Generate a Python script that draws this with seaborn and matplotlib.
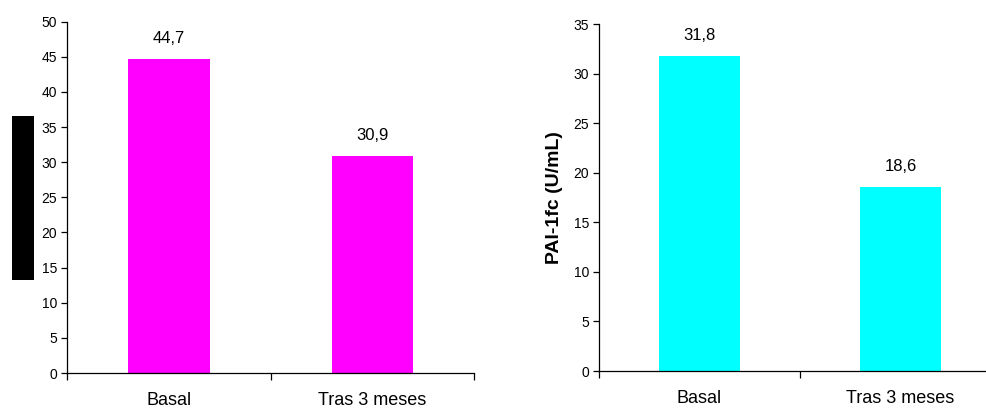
import matplotlib
matplotlib.use("Agg")
import matplotlib.pyplot as plt
from matplotlib.patches import Rectangle
import seaborn as sns
import pandas as pd

# Data
categories = ["Basal", "Tras 3 meses"]
left_values = [44.7, 30.9]
right_values = [31.8, 18.6]
left_ticks = list(range(0, 51, 5))
right_ticks = list(range(0, 36, 5))
right_ylabel = "PAI-1fc (U/mL)"

sns.set_style("white")
plt.rcParams["font.family"] = ["Liberation Sans", "DejaVu Sans"]
plt.rcParams["text.color"] = "black"
plt.rcParams["axes.labelcolor"] = "black"
plt.rcParams["xtick.color"] = "black"
plt.rcParams["ytick.color"] = "black"

fig = plt.figure(figsize=(9.86, 4.09), dpi=100)
ax1 = fig.add_axes([0.068, 0.088, 0.4128, 0.859])
ax2 = fig.add_axes([0.6075, 0.0929, 0.4077, 0.848])


def draw_panel(ax, values, color, ticks, ymax):
    df = pd.DataFrame({"cat": categories, "val": values})
    sns.barplot(data=df, x="cat", y="val", color=color, saturation=1,
                width=0.4, ax=ax, edgecolor="none")
    ax.set_xlim(-0.5, 1.5)
    ax.set_ylim(0, ymax)
    ax.set_yticks(ticks)
    ax.set_yticklabels([str(t) for t in ticks], fontsize=10)
    # boundary ticks between categories, labels centred under bars
    ax.set_xticks([-0.5, 0.5, 1.5])
    ax.set_xticklabels([])
    ax.set_xticks([0, 1], minor=True)
    ax.set_xticklabels(categories, minor=True, fontsize=13)
    ax.tick_params(axis="x", which="minor", bottom=True, length=0, pad=14)
    ax.tick_params(axis="x", which="major", bottom=True, length=5,
                   width=0.9, direction="out", color="black")
    ax.tick_params(axis="y", left=True, length=4, width=0.9,
                   direction="out", pad=3, color="black")
    ax.set_xlabel("")
    ax.set_ylabel("")
    for s in ["top", "right"]:
        ax.spines[s].set_visible(False)
    for s in ["left", "bottom"]:
        ax.spines[s].set_color("black")
        ax.spines[s].set_linewidth(0.9)
    for i, v in enumerate(values):
        ax.annotate(f"{v:.1f}".replace(".", ","), xy=(i, v), xytext=(0, 9),
                    textcoords="offset points", ha="center", va="bottom",
                    fontsize=12, color="black")


draw_panel(ax1, left_values, "#FF00FF", left_ticks, 50)
draw_panel(ax2, right_values, "#00FFFF", right_ticks, 35)
ax2.set_ylabel(right_ylabel, fontsize=14, fontweight="bold", labelpad=8,
               color="black")

# solid block over the left axis title
fig.patches.append(Rectangle((0.0122, 0.3154), 0.0223, 0.401,
                             transform=fig.transFigure, facecolor="black",
                             edgecolor="none"))

fig.savefig("out.png", dpi=100)
